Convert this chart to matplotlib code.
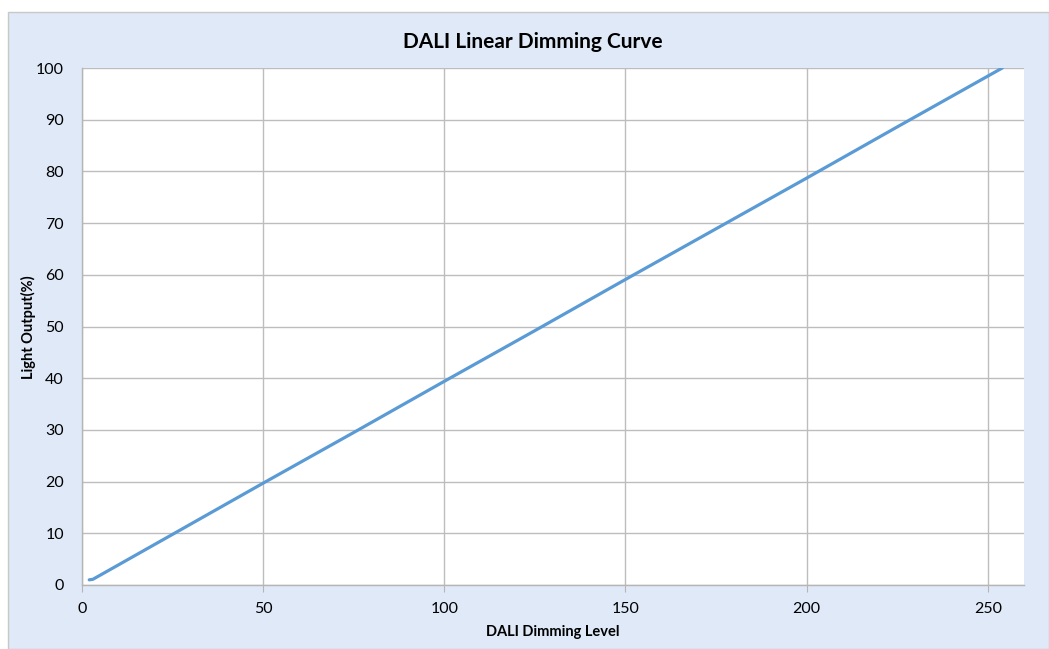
import matplotlib.pyplot as plt

plt.rcParams['font.family'] = ['Lato', 'DejaVu Sans']

# values
level = [2, 3, 25, 50, 75, 100, 125, 150, 175, 200, 225, 254]
output = [1.0, 1.1, 9.8, 19.7, 29.5, 39.4, 49.2, 59.1, 68.9, 78.7, 88.6, 100.0]

xticks = [0, 50, 100, 150, 200, 250]
yticks = list(range(0, 101, 10))

bg = '#dfe9f8'

fig = plt.figure(figsize=(10.49, 6.49), dpi=100)
fig.patch.set_facecolor('white')
panel = plt.Rectangle((8 / 1049, 0), 1 - 8 / 1049, 1 - 12 / 649, transform=fig.transFigure,
                      facecolor=bg, edgecolor='#c8c8c8', linewidth=1, zorder=-10)
fig.patches.append(panel)

ax = fig.add_axes([82 / 1049, 1 - 585 / 649, (1024 - 82) / 1049, (585 - 68) / 649])
ax.set_facecolor('white')

ax.plot(level, output, color='#5b9bd5', linewidth=2.3, solid_capstyle='round')

ax.set_xlim(0, 260)
ax.set_ylim(0, 100)
ax.set_xticks(xticks)
ax.set_yticks(yticks)
ax.grid(True, color='#bdbdbd', linewidth=1)
ax.set_axisbelow(True)

for side in ['top', 'right']:
    ax.spines[side].set_visible(False)
for side in ['left', 'bottom']:
    ax.spines[side].set_color('#b5b5b5')
    ax.spines[side].set_linewidth(1)

ax.tick_params(axis='x', length=5, color='#b5b5b5', labelsize=11.5, pad=7)
ax.tick_params(axis='y', length=0, labelsize=11.5, pad=13)

ax.set_xlabel('DALI Dimming Level', fontsize=10.5, fontweight='bold', labelpad=7)
fig.text(28 / 1049, 1 - 327 / 649, 'Light Output(%)', rotation=90, ha='center', va='center',
         fontsize=10.5, fontweight='bold')
fig.text(533 / 1049, 1 - 42 / 649, 'DALI Linear Dimming Curve', ha='center', va='center',
         fontsize=15, fontweight='bold')

plt.savefig('out.png', dpi=100, facecolor=fig.get_facecolor())
